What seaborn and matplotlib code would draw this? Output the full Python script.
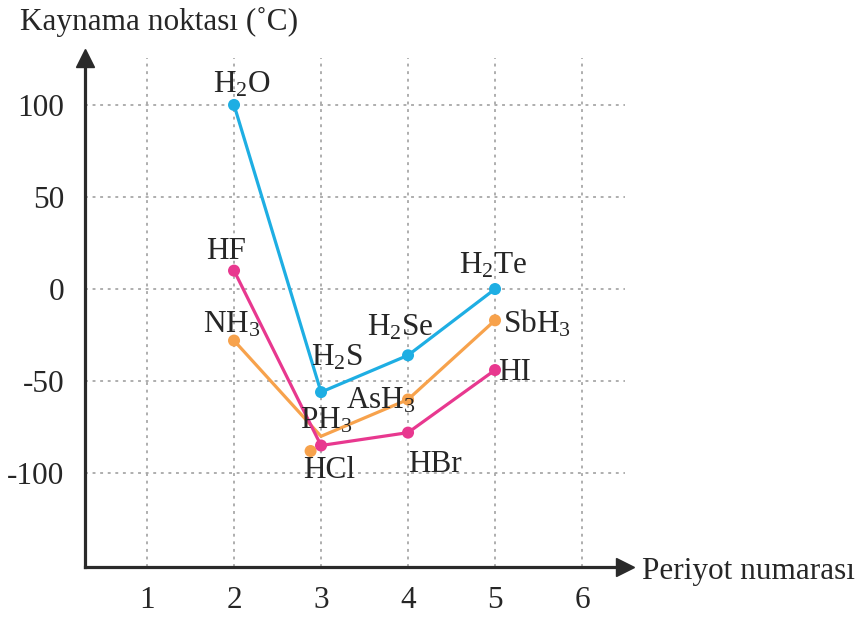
import matplotlib
matplotlib.use("Agg")
import matplotlib.pyplot as plt
import seaborn as sns
import pandas as pd

# ---------------- data ----------------
periods = [2, 3, 4, 5]
group15_names = ["NH$_3$", "PH$_3$", "AsH$_3$", "SbH$_3$"]
group15_values = [-28, -80, -60, -17]
group17_names = ["HF", "HCl", "HBr", "HI"]
group17_values = [10, -85, -78, -44]
group16_names = ["H$_2$O", "H$_2$S", "H$_2$Se", "H$_2$Te"]
group16_values = [100, -56, -36, 0]
# orange marker for PH3 sits slightly off the line vertex in the source
group15_marker_x = [2, 2.88, 4, 5]
group15_marker_y = [-28, -88, -60, -17]

x_ticks = [1, 2, 3, 4, 5, 6]
y_ticks = [-100, -50, 0, 50, 100]
y_label = "Kaynama noktası (˚C)"
x_label = "Periyot numarası"

# ---------------- style ----------------
sns.set_theme(style="white")
plt.rcParams["font.family"] = ["Liberation Serif", "DejaVu Serif"]
plt.rcParams["mathtext.fontset"] = "custom"
plt.rcParams["mathtext.rm"] = "Liberation Serif"
plt.rcParams["mathtext.it"] = "Liberation Serif:italic"
plt.rcParams["mathtext.bf"] = "Liberation Serif:bold"
plt.rcParams["axes.unicode_minus"] = False

FS = 22.5
c_orange = "#f7a24c"
c_pink = "#e8388f"
c_blue = "#1eaee3"
c_axis = "#2a2a2a"
c_text = "#262626"

lines = pd.DataFrame({
    "Periyot": periods * 3,
    "T": group15_values + group17_values + group16_values,
    "Grup": ["15"] * 4 + ["17"] * 4 + ["16"] * 4,
})
markers = pd.DataFrame({
    "Periyot": group15_marker_x + periods + periods,
    "T": group15_marker_y + group17_values + group16_values,
    "Grup": ["15"] * 4 + ["17"] * 4 + ["16"] * 4,
})
pal = {"15": c_orange, "17": c_pink, "16": c_blue}

fig = plt.figure(figsize=(8.64, 6.17), dpi=100)
ax = fig.add_axes([85 / 864, 1 - 567 / 617, (625 - 85) / 864, (567 - 58) / 617])

sns.lineplot(data=lines, x="Periyot", y="T", hue="Grup", palette=pal,
             hue_order=["15", "17", "16"], linewidth=2.3, legend=False,
             sort=False, ax=ax, zorder=3)
sns.scatterplot(data=markers, x="Periyot", y="T", hue="Grup", palette=pal,
                hue_order=["15", "17", "16"], s=75, edgecolor="none",
                legend=False, ax=ax, zorder=4)

ax.set_xlim(0.287, 6.494)
ax.set_ylim(-151, 125.5)
ax.set_xticks(x_ticks)
ax.set_yticks(y_ticks)
ax.set_xlabel("")
ax.set_ylabel("")

for s in ["top", "right"]:
    ax.spines[s].set_visible(False)
for s in ["left", "bottom"]:
    ax.spines[s].set_linewidth(2.3)
    ax.spines[s].set_color(c_axis)

ax.tick_params(axis="both", direction="out", length=6, width=1.6,
               color=c_axis, labelsize=FS, labelcolor=c_text)
ax.tick_params(axis="x", pad=8)
ax.tick_params(axis="y", length=5, pad=10)

ax.grid(True, linestyle=(0, (1.6, 2.6)), color="#a8a8a8", linewidth=1.3, zorder=0)
ax.set_axisbelow(True)

# arrow heads
ax.plot(1, 0, ">", transform=ax.transAxes, clip_on=False, color=c_axis,
        markersize=13, zorder=6)
ax.plot(0, 1, "^", transform=ax.transAxes, clip_on=False, color=c_axis,
        markersize=13, zorder=6)

# point labels
offsets16 = [(8, 12), (16, 27), (-8, 20), (-2, 16)]
offsets17 = [(-8, 12), (8, -32), (27, -39), (20, -10)]
offsets15 = [(-2, 8), (5, 8), (-27, -9), (42, -12)]
for names, xs, ys, offs in [
    (group16_names, periods, group16_values, offsets16),
    (group17_names, periods, group17_values, offsets17),
    (group15_names, periods, group15_values, offsets15),
]:
    for n, x, y, (dx, dy) in zip(names, xs, ys, offs):
        ax.annotate(n, xy=(x, y), xytext=(dx, dy), textcoords="offset pixels",
                    ha="center", va="baseline", fontsize=FS, color=c_text,
                    zorder=7)

fig.text(20 / 864, 1 - 22 / 617, y_label, ha="left", va="center",
         fontsize=FS, color=c_text)
fig.text(642 / 864, 1 - 571 / 617, x_label, ha="left", va="center",
         fontsize=FS, color=c_text)

fig.savefig("out.png", dpi=100)
